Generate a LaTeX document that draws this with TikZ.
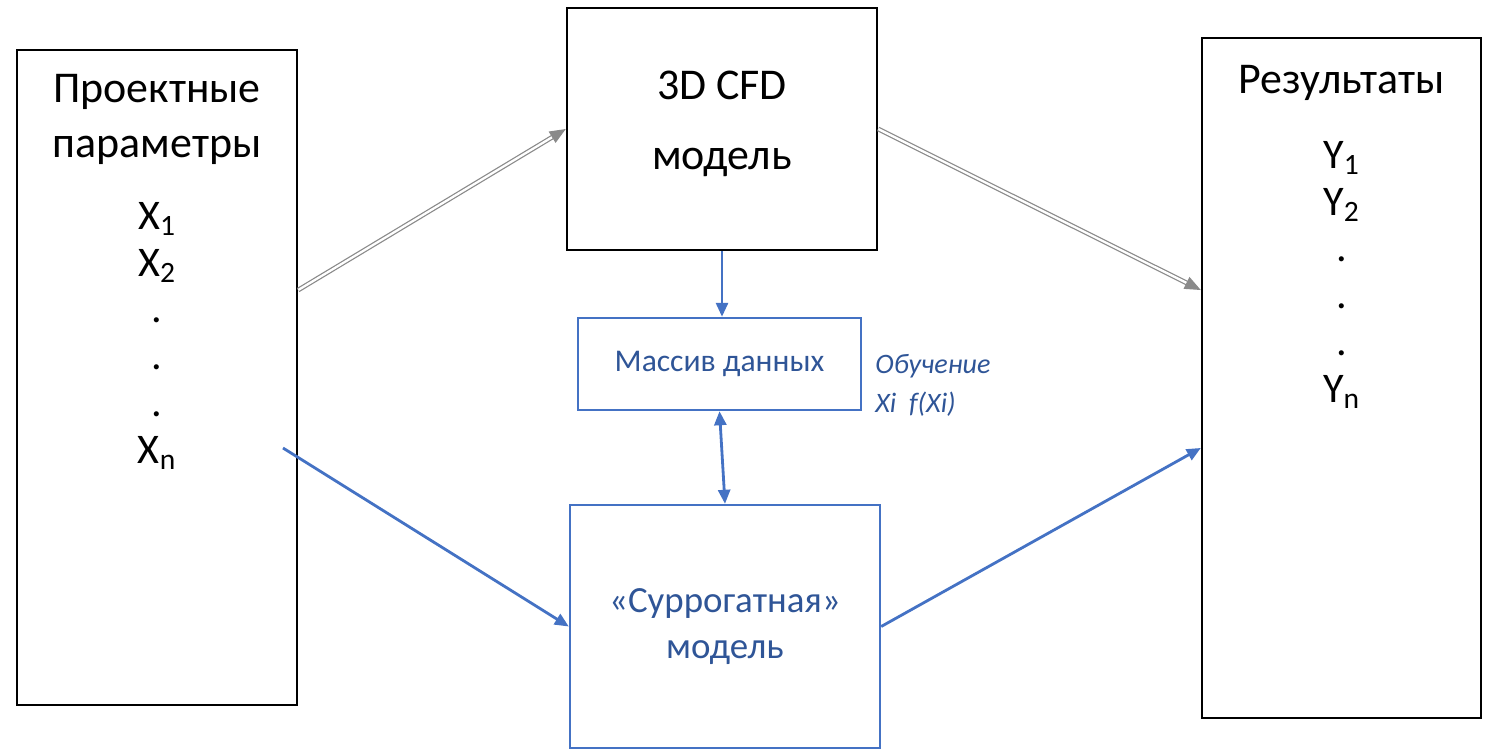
\documentclass[tikz,border=0pt]{standalone}
\usepackage{fontspec}
\setmainfont{Carlito}
\usetikzlibrary{arrows.meta}
\definecolor{flowblue}{HTML}{4472C4}
\definecolor{labelblue}{HTML}{2F5597}
\definecolor{flowgray}{HTML}{8A8A8A}
\tikzset{
  mainbox/.style={draw=black, line width=1.4pt, minimum width=#1},
  modelbox/.style={draw=flowblue, line width=1.4pt, text=labelblue, align=center, minimum width=#1},
  bigtext/.style={font=\fontsize{25}{31}\selectfont, align=center},
  listtext/.style={font=\fontsize{24}{26.6}\selectfont, align=center},
  grayflow/.style={draw=flowgray, line width=0.7pt, double=white, double distance=1.3pt,
    -{Triangle[length=0.32cm, width=0.26cm, fill=flowgray]}},
  blueflow/.style={draw=flowblue, line width=1.6pt, -{Triangle[length=0.28cm, width=0.24cm]}}
}
\begin{document}
\begin{tikzpicture}[x=0.02cm, y=-0.02cm]
  \useasboundingbox (0,0) rectangle (1493,750);
  \node[mainbox=5.6cm, minimum height=13.1cm] (params) at (157,377.5) {};
  \node[mainbox=5.58cm, minimum height=13.6cm] (results) at (1341.5,378) {};
  \node[mainbox=6.2cm, minimum height=4.84cm, font=\fontsize{25}{39.7}\selectfont, align=center,
    text depth=0.35cm] (cfd) at (722,129) {3D CFD\\модель};
  \node[modelbox=5.66cm, minimum height=1.84cm, font=\fontsize{18}{22}\selectfont]
    (data) at (719.5,364) {Массив данных};
  \node[modelbox=6.2cm, minimum height=4.86cm, font=\fontsize{21}{26}\selectfont]
    (surrogate) at (725,626.5) {«Суррогатная»\\модель};
  \node[bigtext, anchor=base] (paramstitle) at (157,157) {Проектные\\параметры};
  \node[listtext, anchor=base] (xlist) at (157,463)
    {X\textsubscript{1}\\X\textsubscript{2}\\.\\.\\.\\X\textsubscript{n}};
  \node[bigtext, anchor=base] (resultstitle) at (1341.5,93) {Результаты};
  \node[listtext, anchor=base] (ylist) at (1341.5,402)
    {Y\textsubscript{1}\\Y\textsubscript{2}\\.\\.\\.\\Y\textsubscript{n}};
  \node[anchor=base west, inner sep=0pt, text=labelblue, align=left,
    font=\fontsize{16}{22}\selectfont\itshape] (training) at (875,412) {Обучение\\Xi\ \ f(Xi)};
  \coordinate (xstart) at (283,448);
  \draw[grayflow] ([yshift=1.75cm]params.east) -- (cfd.west);
  \draw[grayflow] (cfd.east) -- ([yshift=1.76cm]results.west);
  \draw[blueflow] (xstart) -- (surrogate.west);
  \draw[blueflow] (surrogate.east) -- ([yshift=-1.4cm]results.west);
  \draw[blueflow] (cfd.south) -- (cfd.south |- data.north);
  \draw[blueflow, {Triangle[length=0.28cm, width=0.24cm]}-{Triangle[length=0.28cm, width=0.24cm]}]
    (data.south) -- (surrogate.north);
\end{tikzpicture}
\end{document}
